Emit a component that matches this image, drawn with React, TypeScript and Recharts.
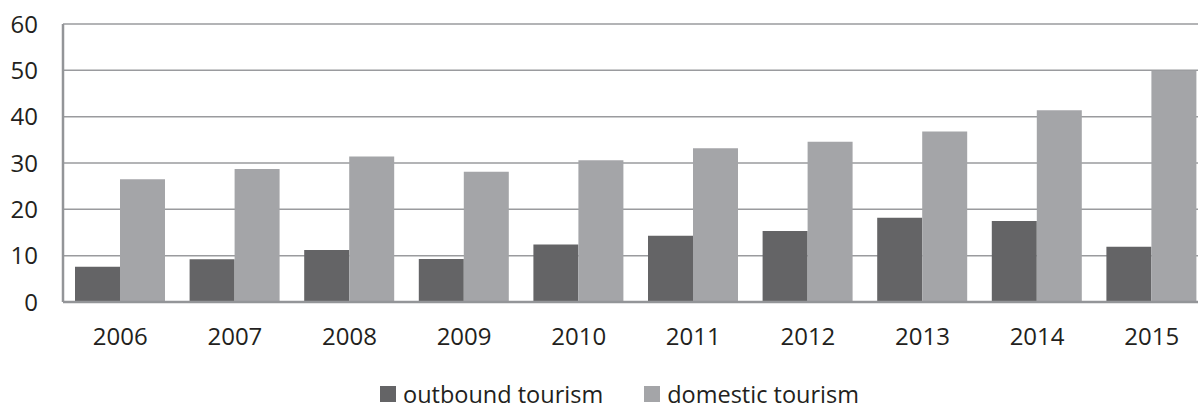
import { Bar, BarChart, XAxis, YAxis, CartesianGrid } from "recharts";

const years = ["2006", "2007", "2008", "2009", "2010", "2011", "2012", "2013", "2014", "2015"];
const outbound = [7.6, 9.2, 11.2, 9.3, 12.4, 14.3, 15.3, 18.2, 17.5, 11.9];
const domestic = [26.5, 28.7, 31.4, 28.1, 30.6, 33.2, 34.6, 36.8, 41.4, 49.9];
const yTicks = [0, 10, 20, 30, 40, 50, 60];

const seriesInfo = [
  { key: "outbound", name: "outbound tourism", color: "#646466" },
  { key: "domestic", name: "domestic tourism", color: "#a4a5a8" },
];

const data = years.map((year, i) => ({
  year,
  outbound: outbound[i],
  domestic: domestic[i],
}));

const font = "'Open Sans', 'Noto Sans', sans-serif";
const tickStyle = { fill: "#231f20", fontSize: 24, fontFamily: font };

export default function App() {
  return (
    <div style={{ position: "absolute", left: 0, top: 0, width: 1198, height: 407, background: "#fff" }}>
      {/* plot area runs a little past the right edge, as in the cropped original */}
      <div style={{ position: "absolute", left: 0, top: 0, width: 1198, height: 370, overflow: "hidden" }}>
        <BarChart
          width={1209}
          height={407}
          data={data}
          margin={{ top: 24, right: 0, left: 0, bottom: 65 }}
          barCategoryGap={12}
          barGap={0}
        >
          <CartesianGrid vertical={false} stroke="#9a9b9e" strokeWidth={1.5} />
          <XAxis
            dataKey="year"
            height={40}
            tickLine={false}
            axisLine={{ stroke: "#939598", strokeWidth: 2.5 }}
            tick={tickStyle}
            tickMargin={20}
          />
          <YAxis
            width={63}
            domain={[0, 60]}
            ticks={yTicks}
            tickLine={false}
            axisLine={{ stroke: "#939598", strokeWidth: 2.5 }}
            tick={tickStyle}
            tickMargin={19}
          />
          {seriesInfo.map((s) => (
            <Bar key={s.key} dataKey={s.key} name={s.name} fill={s.color} isAnimationActive={false} />
          ))}
        </BarChart>
      </div>
      <div
        style={{
          position: "absolute",
          left: 380,
          top: 382,
          display: "flex",
          alignItems: "center",
          fontFamily: font,
          fontSize: 23.5,
          lineHeight: "24px",
          color: "#231f20",
          whiteSpace: "nowrap",
        }}
      >
        {seriesInfo.map((s, i) => (
          <div key={s.key} style={{ display: "flex", alignItems: "center", marginRight: i === 0 ? 41 : 0 }}>
            <span style={{ width: 16, height: 16, background: s.color, display: "inline-block", marginRight: 7 }} />
            <span>{s.name}</span>
          </div>
        ))}
      </div>
    </div>
  );
}
